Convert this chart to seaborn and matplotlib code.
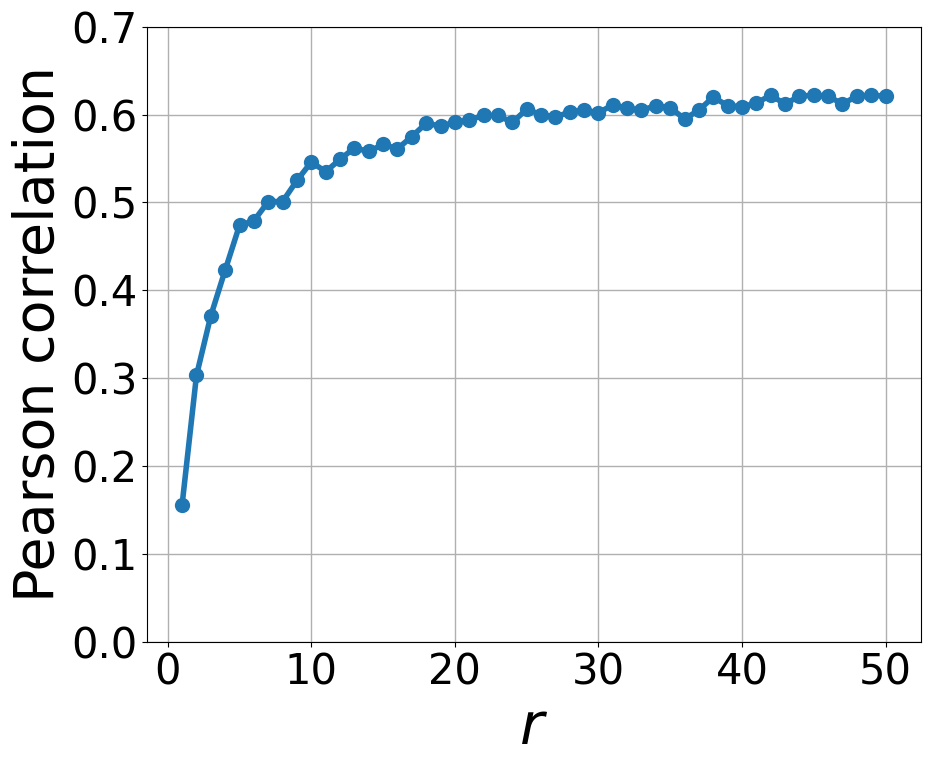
import matplotlib
matplotlib.use("Agg")
import matplotlib.pyplot as plt
import pandas as pd
import seaborn as sns

# Correlação de Pearson em função de r
r_valores = list(range(1, 51))
correlacao = [
    0.156, 0.303, 0.371, 0.423, 0.474, 0.479, 0.501, 0.501, 0.525, 0.546,
    0.535, 0.549, 0.562, 0.558, 0.566, 0.561, 0.575, 0.590, 0.587, 0.591,
    0.594, 0.599, 0.599, 0.591, 0.606, 0.600, 0.597, 0.603, 0.605, 0.602,
    0.611, 0.607, 0.605, 0.610, 0.608, 0.595, 0.605, 0.620, 0.610, 0.609,
    0.613, 0.622, 0.612, 0.621, 0.622, 0.621, 0.612, 0.621, 0.622, 0.621,
]

df = pd.DataFrame({"r": r_valores, "pearson": correlacao})

fig, ax = plt.subplots(figsize=(9.3, 7.63), dpi=100)
sns.lineplot(data=df, x="r", y="pearson", marker="o", color="#1f77b4",
             linewidth=4, markersize=11, markeredgewidth=0, ax=ax)

ax.set_ylim(0, 0.7)
ax.set_xticks([0, 10, 20, 30, 40, 50])
ax.set_yticks([0.0, 0.1, 0.2, 0.3, 0.4, 0.5, 0.6, 0.7])
ax.grid(True, color="#b0b0b0", linewidth=1)
ax.set_axisbelow(True)
ax.tick_params(labelsize=30)
ax.set_xlabel("$r$", fontsize=42)
ax.set_ylabel("Pearson correlation", fontsize=40)

fig.subplots_adjust(left=0.158, right=0.990, top=0.965, bottom=0.159)
fig.savefig("out.png", dpi=100)
plt.close(fig)
